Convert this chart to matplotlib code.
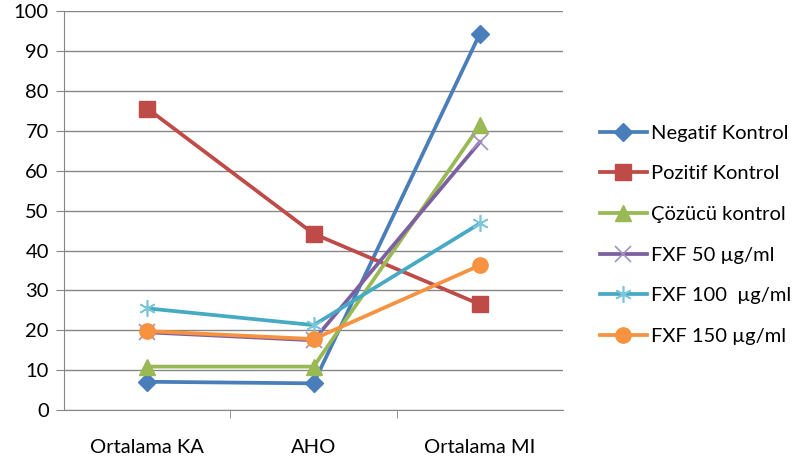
import numpy as np
import matplotlib.pyplot as plt

plt.rcParams['font.family'] = ['Lato', 'DejaVu Sans']

categories = ['Ortalama KA', 'AHO', 'Ortalama MI']

negatif = [7.1, 6.7, 94.4]
pozitif = [75.6, 44.2, 26.5]
cozucu = [10.9, 10.9, 71.4]
fxf50 = [19.5, 17.5, 67.2]
fxf100 = [25.5, 21.3, 46.8]
fxf150 = [19.8, 17.8, 36.3]

series = [
    ('Negatif Kontrol', negatif, '#4A7EBB', 'D', 9),
    ('Pozitif Kontrol', pozitif, '#BE4B48', 's', 11),
    ('Çözücü kontrol', cozucu, '#98B954', '^', 11),
    ('FXF 50 µg/ml', fxf50, '#7D60A0', 'x', 11),
    ('FXF 100  µg/ml', fxf100, '#46AAC5', '*', 12),
    ('FXF 150 µg/ml', fxf150, '#F69240', 'o', 11),
]

fig = plt.figure(figsize=(7.92, 4.66), dpi=100)
ax = fig.add_axes([0.081, 0.12, 0.63, 0.856])

x = np.arange(len(categories))
for name, vals, col, mk, ms in series:
    if mk == '*':
        # Excel-style star: an x with a vertical stroke
        ax.plot(x, vals, color=col, lw=2.7, label=name, marker=(6, 2, 0),
                ms=ms, mec='#7CC6DA', mew=1.2)
    elif mk == 'x':
        ax.plot(x, vals, color=col, lw=2.7, label=name, marker=mk,
                ms=ms, mec='#A291C4', mew=1.2)
    else:
        ax.plot(x, vals, color=col, lw=2.7, label=name, marker=mk,
                ms=ms, mfc=col, mec=col)

ax.set_xlim(-0.5, 2.5)
ax.set_ylim(0, 100)
ax.set_yticks(np.arange(0, 101, 10))
ax.set_xticks(x)
ax.set_xticklabels(categories)
ax.set_xticks([0.5, 1.5], minor=True)
ax.tick_params(axis='x', which='major', length=0, pad=21, labelsize=14.5)
ax.tick_params(axis='x', which='minor', length=6, color='#868686', direction='out')
ax.tick_params(axis='y', length=6, color='#868686', labelsize=14.5, pad=5)

ax.yaxis.grid(True, color='#868686', lw=1)
ax.set_axisbelow(True)
for s in ['top', 'right']:
    ax.spines[s].set_visible(False)
for s in ['left', 'bottom']:
    ax.spines[s].set_color('#868686')

fig.legend(loc='center left', bbox_to_anchor=(0.735, 0.496), frameon=False,
           fontsize=14.5, handlelength=2.3, handletextpad=0.2,
           labelspacing=1.17)

fig.savefig('out.png', dpi=100)
